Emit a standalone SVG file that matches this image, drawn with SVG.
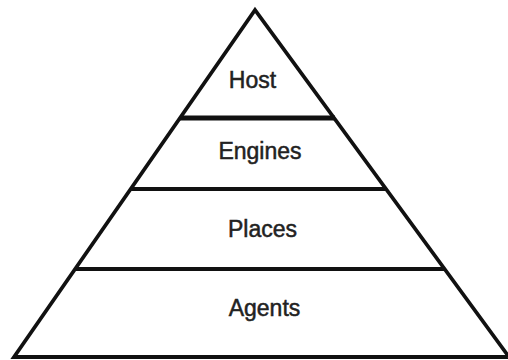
<svg xmlns="http://www.w3.org/2000/svg" width="508" height="360" viewBox="0 0 508 360">
<style>
.edge{fill:none;stroke:#111;stroke-width:3.8;stroke-linejoin:miter}
.div{stroke:#111;stroke-width:3.8}
.lbl{font-family:"Liberation Sans",Arial,sans-serif;font-size:23px;fill:#222;stroke:#222;stroke-width:0.5;text-anchor:middle}
</style>
<rect width="508" height="360" fill="#fff"/>
<g id="connectors">
<polygon class="edge" points="255,10 14,357 509,357"/>
<line class="div" x1="180" y1="118" x2="335" y2="118" style="stroke-width:5"/>
<line class="div" x1="131" y1="189" x2="387" y2="189"/>
<line class="div" x1="76" y1="269" x2="444" y2="269"/>
</g>
<g id="host"><text class="lbl" x="252.5" y="88">Host</text></g>
<g id="engines"><text class="lbl" x="260" y="159">Engines</text></g>
<g id="places"><text class="lbl" x="262.5" y="237">Places</text></g>
<g id="agents"><text class="lbl" x="264.5" y="316">Agents</text></g>
</svg>
